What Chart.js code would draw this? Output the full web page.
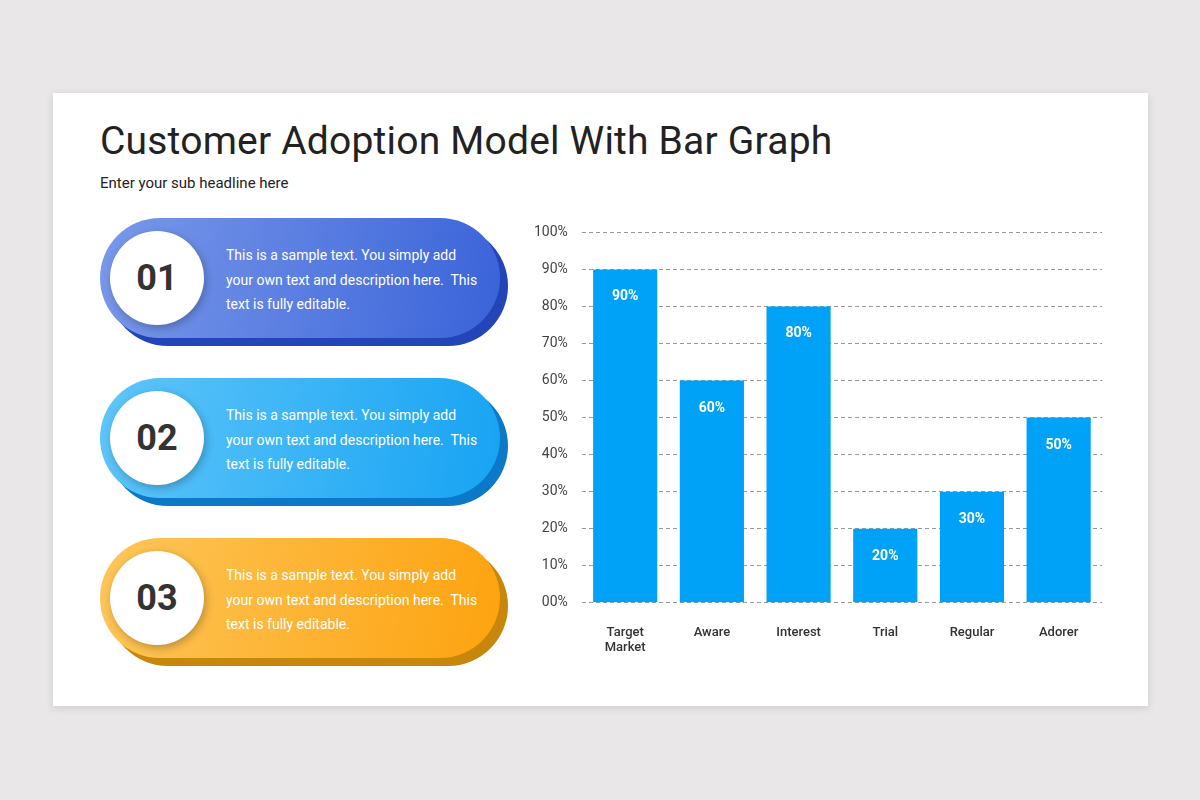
<!DOCTYPE html>
<html>
<head>
<meta charset="utf-8">
<script src="https://cdn.jsdelivr.net/npm/chart.js@4"></script>
<style>
  body { margin: 0; width: 1200px; height: 800px; background: #e9e7e8; font-family: Roboto, sans-serif; position: relative; overflow: hidden; }
  .card { position: absolute; left: 53px; top: 93px; width: 1095px; height: 613px; background: #fff; box-shadow: 0 2px 8px rgba(0,0,0,0.12); }
  h1 { position: absolute; left: 100px; top: 118px; margin: 0; font-weight: 400; font-size: 39px; color: #222; letter-spacing: 0.2px; }
  .sub { position: absolute; left: 100px; top: 174px; font-size: 15px; color: #222; }
  .pill { position: absolute; left: 100px; width: 400px; height: 120px; }
  .pill .back { position: absolute; left: 8px; top: 8px; width: 400px; height: 120px; border-radius: 60px; }
  .pill .front { position: absolute; left: 0; top: 0; width: 400px; height: 120px; border-radius: 60px; }
  .pill .circle { position: absolute; left: 10px; top: 13px; width: 94px; height: 94px; border-radius: 50%; background: #fff; box-shadow: 2px 3px 8px rgba(0,0,0,0.25); display: flex; align-items: center; justify-content: center; font-size: 36px; font-weight: 700; color: #333; }
  .pill .txt { position: absolute; left: 126px; top: 25px; width: 260px; font-size: 14px; line-height: 24.5px; color: #fff; }
  #wrap { position: absolute; left: 520px; top: 210px; width: 600px; height: 460px; }
</style>
</head>
<body>
<div class="card"></div>
<h1>Customer Adoption Model With Bar Graph</h1>
<div class="sub">Enter your sub headline here</div>

<div class="pill" style="top:218px">
  <div class="back" style="background:#2345b8"></div>
  <div class="front" style="background:linear-gradient(100deg,#7a99ea,#3a63d9)"></div>
  <div class="circle">01</div>
  <div class="txt">This is a sample text. You simply add your own text and description here.&nbsp; This text is fully editable.</div>
</div>
<div class="pill" style="top:378px">
  <div class="back" style="background:#0b78c8"></div>
  <div class="front" style="background:linear-gradient(100deg,#5fc6fa,#17a3f3)"></div>
  <div class="circle">02</div>
  <div class="txt">This is a sample text. You simply add your own text and description here.&nbsp; This text is fully editable.</div>
</div>
<div class="pill" style="top:538px">
  <div class="back" style="background:#c7870c"></div>
  <div class="front" style="background:linear-gradient(100deg,#fdc65a,#fda30f)"></div>
  <div class="circle">03</div>
  <div class="txt">This is a sample text. You simply add your own text and description here.&nbsp; This text is fully editable.</div>
</div>

<div id="wrap"><canvas id="chart"></canvas></div>

<script>
// Chart data
const categories = [['Target', 'Market'], 'Aware', 'Interest', 'Trial', 'Regular', 'Adorer'];
const adoption = [90, 60, 80, 20, 30, 50];
const tickLabels = ['00%', '10%', '20%', '30%', '40%', '50%', '60%', '70%', '80%', '90%', '100%'];

// Draws the value label inside the top of each bar.
const barLabels = {
    id: 'barLabels',
    afterDatasetsDraw(chart) {
        const ctx = chart.ctx;
        ctx.save();
        ctx.font = 'bold 14px Roboto';
        ctx.fillStyle = '#fff';
        ctx.textAlign = 'center';
        chart.getDatasetMeta(0).data.forEach((bar, i) => {
            ctx.fillText(adoption[i] + '%', bar.x, bar.y + 31);
        });
        ctx.restore();
    }
};

new Chart(document.getElementById('chart'), {
    type: 'bar',
    data: {
        labels: categories,
        datasets: [{
            data: adoption,
            backgroundColor: '#00a2f7',
            barPercentage: 0.74,
            categoryPercentage: 1
        }]
    },
    options: {
        responsive: true,
        maintainAspectRatio: false,
        animation: false,
        layout: { padding: { top: 6, right: 18 } },
        plugins: { legend: { display: false }, tooltip: { enabled: false } },
        scales: {
            x: {
                grid: { display: false },
                border: { display: false },
                ticks: { color: '#333', font: { family: 'Roboto', size: 13, weight: '500' }, padding: 14 }
            },
            y: {
                min: 0, max: 100,
                ticks: {
                    stepSize: 10,
                    color: '#444',
                    font: { family: 'Roboto', size: 14 },
                    padding: 14,
                    callback: (v, i) => tickLabels[i]
                },
                border: { display: false, dash: [4, 3] },
                grid: { color: '#999', drawTicks: false }
            }
        }
    },
    plugins: [barLabels]
});
</script>
</body>
</html>
